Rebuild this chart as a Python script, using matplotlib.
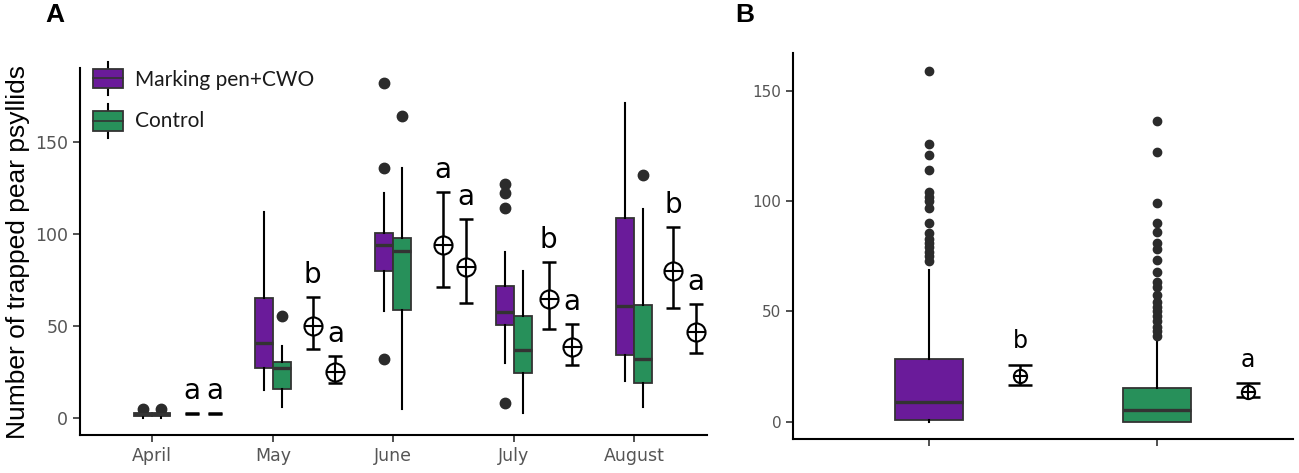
import matplotlib.pyplot as plt
from matplotlib.patches import Rectangle
from matplotlib.lines import Line2D

plt.rcParams['font.family'] = ['Liberation Sans', 'DejaVu Sans']

# ---- data, panel A (per month, two treatments) ----
months = ["April", "May", "June", "July", "August"]

pen_q1 = [1, 27, 80, 50.5, 34]
pen_med = [2, 41, 94, 57.5, 61]
pen_q3 = [3, 65, 100.5, 71.5, 108.5]
pen_lo = [0, 15, 58, 30, 20]
pen_hi = [3.5, 112, 122, 90, 171]
pen_out = [[5], [], [182, 136, 32], [127, 122, 114, 8], []]

ctl_q1 = [1, 16, 58.5, 24.5, 19]
ctl_med = [2, 27, 90.5, 37, 32]
ctl_q3 = [3, 30.5, 97.5, 55.5, 61.5]
ctl_lo = [0, 6, 5, 3, 6]
ctl_hi = [3.5, 39, 136, 80, 113.5]
ctl_out = [[5], [55.5], [164], [], [132]]

pen_mean = [2.5, 50, 94, 64.5, 80]
pen_err_lo = [2, 37.5, 71, 48.5, 60]
pen_err_hi = [3, 66, 123, 85, 104]
pen_letter = ["a", "b", "a", "b", "b"]

ctl_mean = [2.5, 25, 82, 38.5, 46.5]
ctl_err_lo = [2, 19, 62.5, 29, 35.5]
ctl_err_hi = [3, 33.5, 108, 51, 62]
ctl_letter = ["a", "a", "a", "a", "a"]

# ---- data, panel B (whole season) ----
b_q1 = [1, 0]
b_med = [9, 5.5]
b_q3 = [28.5, 15.5]
b_lo = [0, 0]
b_hi = [69, 37]
b_out = [
    [159, 126, 121, 114, 104, 102, 100, 97, 90, 85.5, 83, 81, 79, 77, 75, 73],
    [136, 122, 99, 90, 86, 81, 78.5, 73.5, 68, 63.5, 61, 57.5, 54.5, 52,
     50, 48, 45.5, 43, 41, 39],
]
b_mean = [21, 13.7]
b_err_lo = [16.8, 11.2]
b_err_hi = [25.8, 17.5]
b_letter = ["b", "a"]

purple = "#6a1b9a"
green = "#27905a"
edge = "#333333"
grey = "#555555"
wide = ["DejaVu Sans"]


def stats(q1, med, q3, lo, hi, out):
    return [dict(q1=a, med=m, q3=c, whislo=l, whishi=h, fliers=f)
            for a, m, c, l, h, f in zip(q1, med, q3, lo, hi, out)]


def draw_boxes(ax, st, pos, width, color, ms):
    ax.bxp(st, positions=pos, widths=width, showcaps=False, patch_artist=True,
           boxprops=dict(facecolor=color, edgecolor=edge, linewidth=1.3),
           medianprops=dict(color=edge, linewidth=2.4),
           whiskerprops=dict(color="black", linewidth=1.5),
           flierprops=dict(marker="o", markerfacecolor="#2b2b2b",
                           markeredgecolor="#2b2b2b", markersize=ms),
           zorder=2)


def draw_means(ax, xs, mean, lo, hi, letters, ms, cap, dy, fs):
    yerr = [[m - l for m, l in zip(mean, lo)], [h - m for m, h in zip(mean, hi)]]
    ax.errorbar(xs, mean, yerr=yerr, fmt="none", ecolor="black",
                elinewidth=1.8, capsize=cap, capthick=1.8, zorder=3)
    # the tiny April bars hide their marker in the original, keep that look
    big = [i for i in range(len(xs)) if hi[i] - lo[i] > 2]
    bx = [xs[i] for i in big]
    by = [mean[i] for i in big]
    ax.plot(bx, by, "o", ms=ms, mfc="white", mec="black", mew=1.5, zorder=4)
    ax.plot(bx, by, "+", ms=ms, mec="black", mew=1.5, zorder=5)
    for x, h, t in zip(xs, hi, letters):
        ax.annotate(t, (x, h), xytext=(0, dy), textcoords="offset points",
                    ha="center", va="baseline", fontsize=fs, family=wide)


def style_axis(ax, size):
    for s in ["top", "right"]:
        ax.spines[s].set_visible(False)
    for s in ["left", "bottom"]:
        ax.spines[s].set_linewidth(1.5)
    ax.tick_params(labelsize=size, labelcolor=grey, length=5, width=1.2,
                   color="#333333")
    for lab in ax.get_xticklabels() + ax.get_yticklabels():
        lab.set_family(wide)


fig = plt.figure(figsize=(12.99, 4.73), dpi=100)

# ---------------- panel A ----------------
axA = fig.add_axes([0.0616, 0.0803, 0.4824, 0.7757])
xpos = list(range(1, len(months) + 1))
draw_boxes(axA, stats(pen_q1, pen_med, pen_q3, pen_lo, pen_hi, pen_out),
           [x - 0.075 for x in xpos], 0.15, purple, 7.5)
draw_boxes(axA, stats(ctl_q1, ctl_med, ctl_q3, ctl_lo, ctl_hi, ctl_out),
           [x + 0.075 for x in xpos], 0.15, green, 7.5)

# the mean markers sit a little right of each month, June a bit further
shift = [0.33, 0.33, 0.41, 0.29, 0.32]
draw_means(axA, [x + s for x, s in zip(xpos, shift)], pen_mean,
           pen_err_lo, pen_err_hi, pen_letter, 13, 4.7, 10, 20)
draw_means(axA, [x + s + 0.19 for x, s in zip(xpos, shift)], ctl_mean,
           ctl_err_lo, ctl_err_hi, ctl_letter, 13, 4.7, 10, 20)

axA.set_xlim(0.4, 5.6)
axA.set_ylim(-9.2, 190)
axA.set_xticks(xpos)
axA.set_xticklabels(months)
axA.set_yticks([0, 50, 100, 150])
axA.set_ylabel("Number of trapped pear psyllids", fontsize=19, labelpad=4)
style_axis(axA, 12.5)

# legend drawn by hand so the key looks like a little boxplot
for yb, yc, col, lab in [(0.9447, 0.967, purple, "Marking pen+CWO"),
                         (0.828, 0.856, green, "Control")]:
    axA.add_line(Line2D([0.0447, 0.0447], [yb - 0.018, yb + 0.073],
                        transform=axA.transAxes, color="black", lw=1.5,
                        clip_on=False, zorder=5))
    axA.add_patch(Rectangle((0.0207, yb), 0.048, 0.054,
                            transform=axA.transAxes, facecolor=col,
                            edgecolor=edge, lw=1.3, clip_on=False, zorder=6))
    axA.add_line(Line2D([0.0207, 0.0687], [yb + 0.027, yb + 0.027],
                        transform=axA.transAxes, color=edge, lw=1.2,
                        clip_on=False, zorder=7))
    axA.text(0.0877, yc, lab, transform=axA.transAxes, fontsize=15,
             va="center", ha="left", family=["Lato", "DejaVu Sans"],
             color="#1a1a1a")

# ---------------- panel B ----------------
axB = fig.add_axes([0.6105, 0.0719, 0.3849, 0.8161])
draw_boxes(axB, stats(b_q1, b_med, b_q3, b_lo, b_hi, b_out), [1, 2], 0.30,
           purple, 6)
for p, c in zip(axB.patches, [purple, green]):
    p.set_facecolor(c)
draw_means(axB, [1.4, 2.4], b_mean, b_err_lo, b_err_hi, b_letter,
           9.5, 8.3, 12, 17)

axB.set_xlim(0.4, 2.6)
axB.set_ylim(-7.7, 167)
axB.set_xticks([1, 2])
axB.set_xticklabels(["", ""])
axB.set_yticks([0, 50, 100, 150])
style_axis(axB, 11)

fig.text(0.0346, 0.968, "A", fontsize=19, fontweight="bold", va="center")
fig.text(0.566, 0.968, "B", fontsize=19, fontweight="bold", va="center")

fig.savefig("out.png", dpi=100)
